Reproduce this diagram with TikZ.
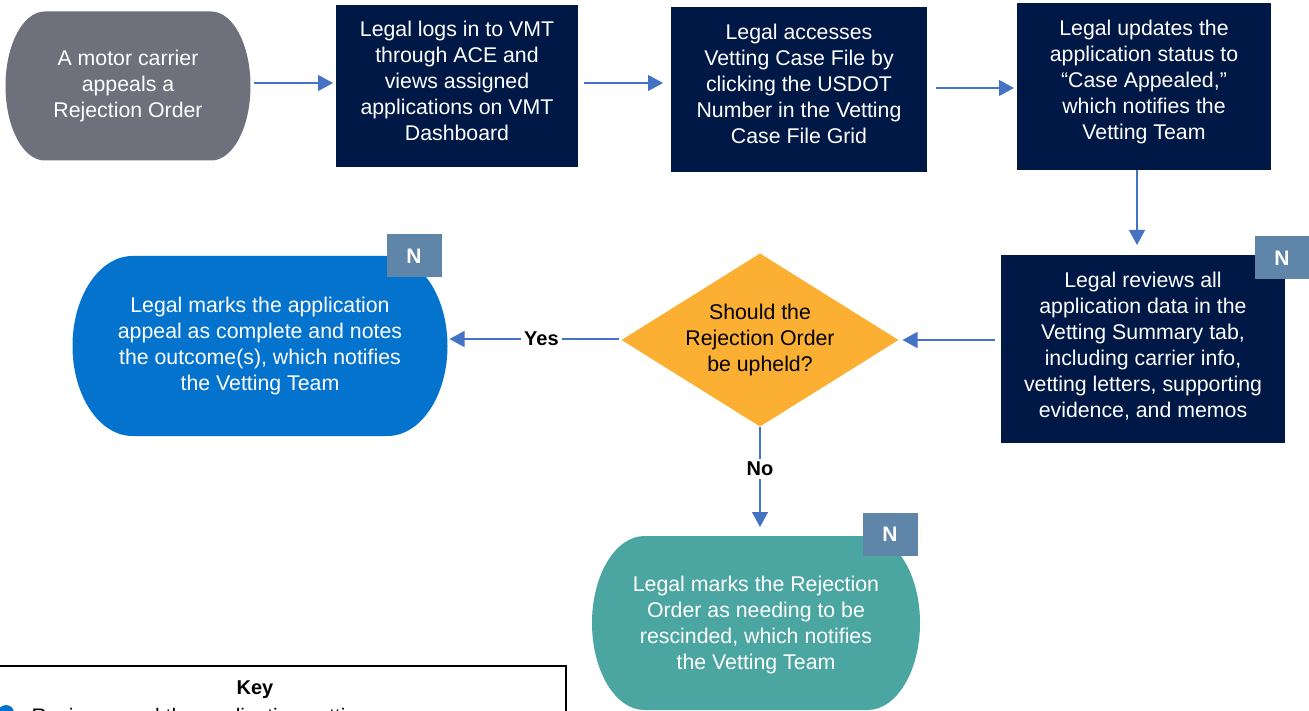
\documentclass[tikz,border=0pt]{standalone}
\usepackage{fontspec}
\setmainfont{Liberation Sans}
\usetikzlibrary{calc,arrows.meta}
\definecolor{cgray}{RGB}{110,112,123}
\definecolor{cnavy}{RGB}{0,24,70}
\definecolor{corange}{RGB}{251,176,52}
\definecolor{cblue}{RGB}{4,115,206}
\definecolor{cteal}{RGB}{75,165,160}
\definecolor{cbadge}{RGB}{95,134,168}
\definecolor{carrow}{RGB}{68,114,196}
\tikzset{
  base/.style={inner sep=0pt,outer sep=0pt,align=center,font=\fontsize{21.3}{26}\selectfont},
  procbox/.style={base,fill=cnavy,text=white},
  termshape/.style={base,text=white,path picture={
    \fill[#1] let \p1=(path picture bounding box.south west), \p2=(path picture bounding box.north east),
      \n1={0.16*(\x2-\x1)}, \n2={0.5*(\y2-\y1)} in
      (\x1+\n1,\y1) -- (\x2-\n1,\y1) arc[start angle=-90,end angle=90,x radius=\n1,y radius=\n2]
      -- (\x1+\n1,\y2) arc[start angle=90,end angle=270,x radius=\n1,y radius=\n2] -- cycle;}},
  decision/.style={base,text=black,path picture={
    \fill[corange] (path picture bounding box.west) -- (path picture bounding box.north)
      -- (path picture bounding box.east) -- (path picture bounding box.south) -- cycle;}},
  badge/.style={inner sep=0pt,outer sep=0pt,fill=cbadge,text=white,minimum width=55pt,minimum height=43pt,font=\fontsize{21}{24}\selectfont\bfseries},
  arr/.style={draw=carrow,line width=1.2pt,-{Triangle[length=15pt,width=16pt]}},
  lbl/.style={fill=white,inner sep=3pt,font=\fontsize{20}{24}\selectfont\bfseries}
}
\begin{document}
\begin{tikzpicture}[x=1pt,y=-1pt]
\path[use as bounding box,clip] (0,0) rectangle (1309,711);
% nodes
\node[termshape=cgray,minimum width=245pt,minimum height=149pt] (start) at (128,86)
  {A motor carrier\\appeals a\\Rejection Order};
\node[procbox,minimum width=242pt,minimum height=162pt,text depth=10pt] (b2) at (457,86)
  {Legal logs in to VMT\\through ACE and\\views assigned\\applications on VMT\\Dashboard};
\node[procbox,minimum width=256pt,minimum height=165pt,text depth=12pt] (b3) at (799,90)
  {Legal accesses\\Vetting Case File by\\clicking the USDOT\\Number in the Vetting\\Case File Grid};
\node[procbox,minimum width=254pt,minimum height=167pt,text depth=14.5pt] (b4) at (1144,87)
  {Legal updates the\\application status to\\“Case Appealed,”\\which notifies the\\Vetting Team};
\node[procbox,minimum width=284pt,minimum height=188pt,text depth=9pt] (b5) at (1143,349)
  {Legal reviews all\\application data in the\\Vetting Summary tab,\\including carrier info,\\vetting letters, supporting\\evidence, and memos};
\node[decision,minimum width=277pt,minimum height=173pt] (dec) at (760,340)
  {Should the\\Rejection Order\\be upheld?};
\node[termshape=cblue,minimum width=375pt,minimum height=180pt] (yesbox) at (260,346)
  {Legal marks the application\\appeal as complete and notes\\the outcome(s), which notifies\\the Vetting Team};
\node[termshape=cteal,minimum width=328pt,minimum height=174pt,text depth=0pt] (nobox) at (756,623)
  {Legal marks the Rejection\\Order as needing to be\\rescinded, which notifies\\the Vetting Team};
% badges
\node[badge] (n1) at (414,256) {N};
\node[badge] (n2) at (1282,258) {N};
\node[badge] (n3) at (890,534) {N};
% connectors
\draw[arr,shorten <=3pt,shorten >=3pt] ([yshift=3pt]start.east) -- ([yshift=3pt]start.east -| b2.west);
\draw[arr,shorten <=6pt,shorten >=8pt] ([yshift=3pt]b2.east) -- ([yshift=3pt]b2.east -| b3.west);
\draw[arr,shorten <=9pt,shorten >=3pt] ([yshift=2pt]b3.east) -- ([yshift=2pt]b3.east -| b4.west);
\draw[arr,shorten <=0pt,shorten >=10pt] ([xshift=-7pt]b4.south) -- ([xshift=-7pt]b4.south |- b5.north);
\draw[arr,shorten <=6pt,shorten >=4pt] (b5.west |- dec.east) -- (dec.east);
\draw[arr,shorten <=3pt,shorten >=2pt] ([yshift=1pt]dec.west) -- ([yshift=1pt]dec.west -| yesbox.east)
  node[lbl,pos=0.46] (yes) {Yes};
\draw[arr,shorten <=0pt,shorten >=9pt] (dec.south) -- (dec.south |- nobox.north)
  node[lbl,pos=0.39] (no) {No};
% key
\draw[line width=1.2pt] (-3,666) rectangle (566,780);
\node[font=\fontsize{20}{24}\selectfont\bfseries] (keyt) at (255,690) {Key};
\fill[cblue] (6,713) circle (8pt);
\node[anchor=west,font=\fontsize{21}{26}\selectfont] (k1) at (28,718) {Reviewer and the application vetting};
\end{tikzpicture}
\end{document}
